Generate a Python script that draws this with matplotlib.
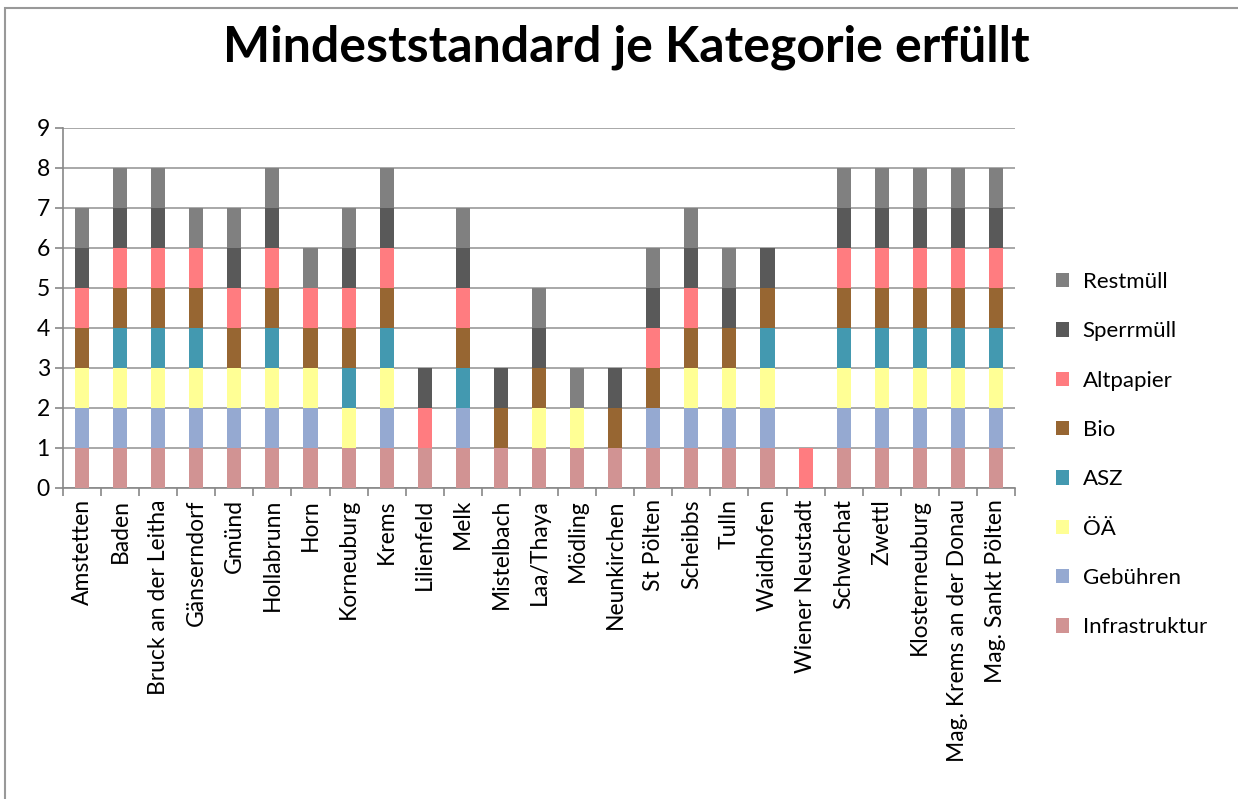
import numpy as np
import matplotlib.pyplot as plt
from matplotlib.patches import Rectangle

plt.rcParams['font.family'] = ['Lato', 'DejaVu Sans']

regions = ['Amstetten', 'Baden', 'Bruck an der Leitha', 'Gänserndorf', 'Gmünd',
           'Hollabrunn', 'Horn', 'Korneuburg', 'Krems', 'Lilienfeld', 'Melk',
           'Mistelbach', 'Laa/Thaya', 'Mödling', 'Neunkirchen', 'St Pölten',
           'Scheibbs', 'Tulln', 'Waidhofen', 'Wiener Neustadt', 'Schwechat',
           'Zwettl', 'Klosterneuburg', 'Mag. Krems an der Donau', 'Mag. Sankt Pölten']

series = ['Infrastruktur', 'Gebühren', 'ÖÄ', 'ASZ', 'Bio', 'Altpapier', 'Sperrmüll', 'Restmüll']

# 1 = Mindeststandard erfüllt
infrastruktur = [1, 1, 1, 1, 1, 1, 1, 1, 1, 1, 1, 1, 1, 1, 1, 1, 1, 1, 1, 0, 1, 1, 1, 1, 1]
gebuehren     = [1, 1, 1, 1, 1, 1, 1, 0, 1, 0, 1, 0, 0, 0, 0, 1, 1, 1, 1, 0, 1, 1, 1, 1, 1]
oeae          = [1, 1, 1, 1, 1, 1, 1, 1, 1, 0, 0, 0, 1, 1, 0, 0, 1, 1, 1, 0, 1, 1, 1, 1, 1]
asz           = [0, 1, 1, 1, 0, 1, 0, 1, 1, 0, 1, 0, 0, 0, 0, 0, 0, 0, 1, 0, 1, 1, 1, 1, 1]
bio           = [1, 1, 1, 1, 1, 1, 1, 1, 1, 0, 1, 1, 1, 0, 1, 1, 1, 1, 1, 0, 1, 1, 1, 1, 1]
altpapier     = [1, 1, 1, 1, 1, 1, 1, 1, 1, 1, 1, 0, 0, 0, 0, 1, 1, 0, 0, 1, 1, 1, 1, 1, 1]
sperrmuell    = [1, 1, 1, 0, 1, 1, 0, 1, 1, 1, 1, 1, 1, 0, 1, 1, 1, 1, 1, 0, 1, 1, 1, 1, 1]
restmuell     = [1, 1, 1, 1, 1, 1, 1, 1, 1, 0, 1, 0, 1, 1, 0, 1, 1, 1, 0, 0, 1, 1, 1, 1, 1]

values = [infrastruktur, gebuehren, oeae, asz, bio, altpapier, sperrmuell, restmuell]
colors = ['#D19393', '#95A9D1', '#FFFF95', '#4399B0', '#976632', '#FF7C80', '#595959', '#808080']

fig = plt.figure(figsize=(12.38, 7.99), dpi=100)
ax = fig.add_axes([63 / 1238, 1 - 488 / 799, (1015 - 63) / 1238, (488 - 128) / 799])

x = np.arange(len(regions))
bottom = np.zeros(len(regions))
for name, vals, col in zip(series, values, colors):
    vals = np.array(vals)
    ax.bar(x, vals, 0.37, bottom=bottom, color=col, label=name, zorder=3)
    bottom += vals

ax.set_ylim(0, 9)
ax.set_xlim(-0.5, len(regions) - 0.5)
ax.set_yticks(range(10))
ax.yaxis.grid(True, color='#999999', linewidth=1.2, zorder=0)
ax.set_xticks(x)
ax.set_xticklabels(regions, rotation=90, fontsize=16.5)
ax.tick_params(axis='x', length=0, pad=8)
ax.set_xticks(np.arange(-0.5, len(regions)), minor=True)
ax.tick_params(axis='x', which='minor', length=6, color='#888888', width=1.2)
ax.tick_params(axis='y', labelsize=16.5, length=6, color='#888888', width=1.2)
for s in ['top', 'right']:
    ax.spines[s].set_visible(False)
for s in ['left', 'bottom']:
    ax.spines[s].set_color('#888888')
    ax.spines[s].set_linewidth(1.2)

handles, labels = ax.get_legend_handles_labels()
fig.legend(handles[::-1], labels[::-1], loc='upper left',
           bbox_to_anchor=(1036 / 1238, 1 - 252 / 799), frameon=False,
           fontsize=16, handlelength=0.6, handleheight=0.6, labelspacing=1.32,
           handletextpad=0.6)

fig.text(626 / 1238, 1 - 47 / 799, 'Mindeststandard je Kategorie erfüllt',
         ha='center', va='center', fontsize=36, fontweight='bold')

fig.patches.append(Rectangle((5 / 1238, -0.1), 2, 1.1 - 8 / 799, transform=fig.transFigure,
                             fill=False, edgecolor='#999999', linewidth=1.5))

plt.savefig('out.png', dpi=100)
